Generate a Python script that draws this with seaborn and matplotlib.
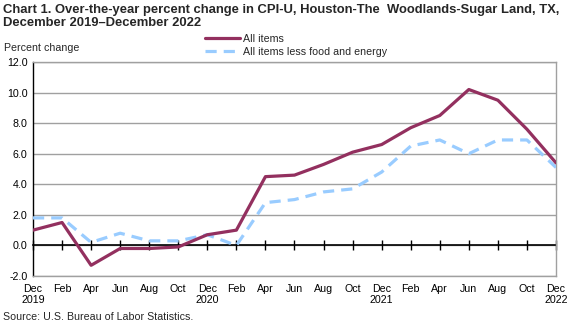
import matplotlib
matplotlib.use("Agg")
import matplotlib.pyplot as plt
import seaborn as sns
import pandas as pd

sns.set_theme(style="white")
plt.rcParams["font.family"] = ["Liberation Sans", "DejaVu Sans"]

months = ["Dec\n2019", "Feb", "Apr", "Jun", "Aug", "Oct",
          "Dec\n2020", "Feb", "Apr", "Jun", "Aug", "Oct",
          "Dec\n2021", "Feb", "Apr", "Jun", "Aug", "Oct",
          "Dec\n2022"]
all_items = [1.0, 1.5, -1.3, -0.2, -0.2, -0.1,
             0.7, 1.0, 4.5, 4.6, 5.3, 6.1,
             6.6, 7.7, 8.5, 10.2, 9.5, 7.6,
             5.4]
core_items = [1.8, 1.8, 0.2, 0.8, 0.3, 0.3,
              0.7, 0.0, 2.8, 3.0, 3.5, 3.7,
              4.8, 6.5, 6.9, 6.0, 6.9, 6.9,
              5.1]
y_ticks = [-2.0, 0.0, 2.0, 4.0, 6.0, 8.0, 10.0, 12.0]

df = pd.DataFrame({
    "pos": list(range(len(months))),
    "All items": all_items,
    "All items less food and energy": core_items,
})

purple = "#93305F"
blue = "#99CCFF"
small = 7.7

fig = plt.figure(figsize=(5.77, 3.27), dpi=100)
ax = fig.add_axes([33 / 577, 1 - 276 / 327, (556 - 33) / 577, (276 - 62) / 327])

for yv in y_ticks:
    ax.axhline(yv, color="#A0A0A0", lw=1.0, zorder=0)

sns.lineplot(data=df, x="pos", y="All items", ax=ax, color=purple,
             lw=2.3, label="All items", zorder=4)
sns.lineplot(data=df, x="pos", y="All items less food and energy",
             ax=ax, color=blue, lw=2.3,
             label="All items less food and energy", zorder=3)
ax.lines[-1].set_dashes([3.5, 2.2])

ax.set_xlim(0, len(months) - 1)
ax.set_ylim(-2, 12)
ax.set_yticks(y_ticks)
ax.set_yticklabels([f"{v:.1f}" for v in y_ticks], fontsize=small, color="#000000")
ax.set_xticks(df["pos"])
ax.set_xticklabels(months, fontsize=small, color="#000000", linespacing=1.05)
ax.tick_params(axis="both", length=0, pad=4)
ax.tick_params(axis="x", pad=6)
ax.set_xlabel("")
ax.set_ylabel("")

for side in ["top", "right", "bottom"]:
    ax.spines[side].set_color("#A0A0A0")
    ax.spines[side].set_linewidth(1.0)
ax.spines["left"].set_color("#000000")
ax.spines["left"].set_linewidth(1.0)

# zero line with tick marks
zero_axis = ax.secondary_xaxis(2 / 14)
zero_axis.set_xticks(df["pos"])
zero_axis.set_xticklabels([])
zero_axis.tick_params(direction="inout", length=7, width=1.0, color="#000000")
zero_axis.spines["bottom"].set_color("#000000")
zero_axis.spines["bottom"].set_linewidth(1.2)

handles, labels = ax.get_legend_handles_labels()
ax.legend_.remove()
fig.legend(handles, labels, loc="upper left", bbox_to_anchor=(205 / 577, 1 - 34 / 327),
           frameon=False, fontsize=small, handlelength=3.3, handletextpad=0.25,
           labelspacing=0.3, borderpad=0, borderaxespad=0)

fig.text(3 / 577, 1 - 4 / 327,
         "Chart 1. Over-the-year percent change in CPI-U, Houston-The  Woodlands-Sugar Land, TX,\nDecember 2019\u2013December 2022",
         ha="left", va="top", fontsize=9.35, fontweight="bold", linespacing=1.15)
fig.text(4 / 577, 1 - 48 / 327, "Percent change", ha="left", va="center", fontsize=small)
fig.text(3 / 577, 1 - 317 / 327, "Source: U.S. Bureau of Labor Statistics.",
         ha="left", va="center", fontsize=small)

fig.savefig("out.png", dpi=100)
